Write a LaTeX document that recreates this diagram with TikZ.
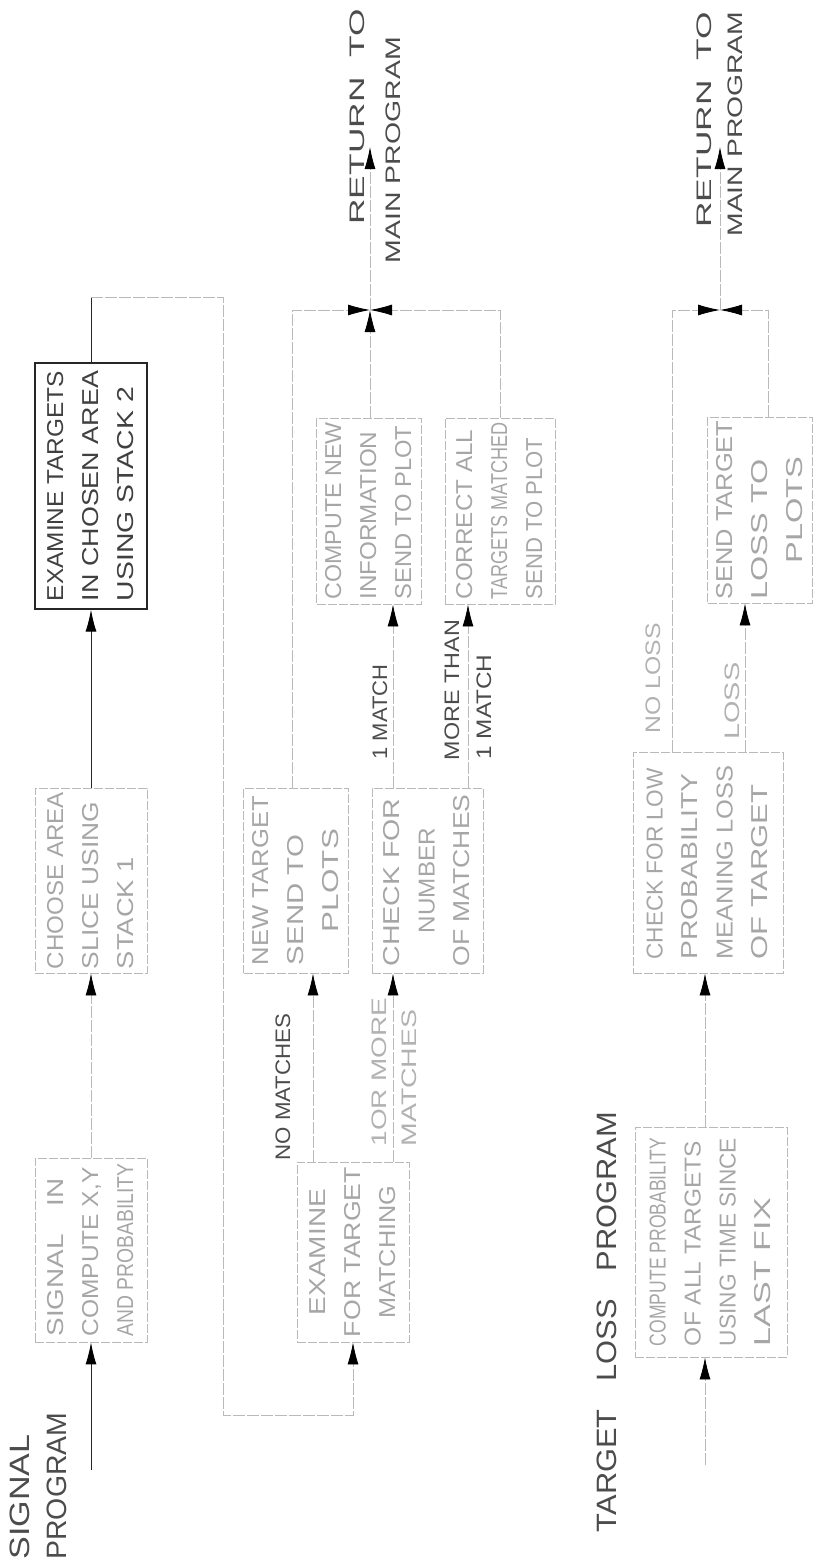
\documentclass[tikz,border=0pt]{standalone}
\usepackage{fontspec}
\setmainfont{Liberation Sans}
\usepackage{graphicx}
\usetikzlibrary{arrows.meta,calc}
\newcommand{\fw}[2]{\resizebox{#1pt}{\height}{#2}}
\newcommand{\rt}[1]{\rotatebox{90}{#1}}
\begin{document}
\begin{tikzpicture}[x=1pt,y=-1pt,
  box/.style={draw=gray!55, dash pattern=on 9pt off 2pt, line width=0.8pt, inner sep=0pt, text=gray!70, font=\fontsize{23}{35}\selectfont},
  sbox/.style={draw=black!85, line width=1.2pt, inner sep=0pt, text=black!75, font=\fontsize{23}{35}\selectfont},
  ln/.style={draw=gray!55, line width=0.8pt, dash pattern=on 12pt off 2pt},
  sln/.style={draw=black!85, line width=1pt},
  arr/.style={-{Latex[length=22pt,width=11pt,color=black]}},
  lab/.style={inner sep=0pt, text=black!70, font=\fontsize{21}{30}\selectfont},
  flab/.style={inner sep=0pt, text=gray!60, font=\fontsize{21}{30}\selectfont},
  ttl/.style={inner sep=0pt, text=black!70, font=\fontsize{28}{37}\selectfont}]
\useasboundingbox (0,0) rectangle (815,1566);

% ---------------- signal program ----------------
\node[ttl] (sgl) at (20,1497) {\rt{\fw{125}{SIGNAL}}};
\node[ttl] (prg) at (57,1486) {\rt{\fw{147}{PROGRAM}}};

\node[box, minimum width=112pt, minimum height=184pt] (sig) at (91,1250)
 {\rt{\begin{tabular}{@{}l@{}}\fw{158}{SIGNAL\quad IN}\\\fw{169}{COMPUTE X,Y}\\\fw{173}{AND PROBABILITY}\end{tabular}}};
\node[box, minimum width=112pt, minimum height=185pt] (ch) at (91,880.5)
 {\rt{\begin{tabular}{@{}l@{}}\fw{177}{CHOOSE AREA}\\\fw{167}{SLICE USING}\\\fw{112}{STACK 1}\end{tabular}}};
\node[sbox, minimum width=112pt, minimum height=246pt] (ex) at (91,486)
 {\rt{\begin{tabular}{@{}l@{}}\fw{230}{EXAMINE TARGETS}\\\fw{230}{IN CHOSEN AREA}\\\fw{214}{USING STACK 2}\end{tabular}}};

\node[box, minimum width=112pt, minimum height=180pt] (em) at (353,1252)
 {\rt{\begin{tabular}{@{}c@{}}\fw{126}{EXAMINE}\\\fw{170}{FOR TARGET}\\\fw{133}{MATCHING}\end{tabular}}};
\node[box, minimum width=102pt, minimum height=185pt] (nt) at (296,880.5)
 {\rt{\begin{tabular}{@{}l@{}}\fw{169}{NEW TARGET}\\\fw{130}{SEND TO}\\\multicolumn{1}{@{}c@{}}{\fw{103}{PLOTS}}\end{tabular}}};
\node[box, minimum width=111pt, minimum height=185pt] (ck) at (427.5,880.5)
 {\rt{\begin{tabular}{@{}l@{}}\fw{168}{CHECK FOR}\\\multicolumn{1}{@{}c@{}}{\fw{105}{NUMBER}}\\\fw{172}{OF MATCHES}\end{tabular}}};
\node[box, minimum width=102pt, minimum height=186pt] (cn) at (369,511)
 {\rt{\begin{tabular}{@{}l@{}}\fw{177}{COMPUTE NEW}\\\fw{168}{INFORMATION}\\\fw{174}{SEND TO PLOT}\end{tabular}}};
\node[box, minimum width=110pt, minimum height=186pt] (cr) at (500,511)
 {\rt{\begin{tabular}{@{}l@{}}\fw{170}{CORRECT ALL}\\\fw{177}{TARGETS MATCHED}\\\fw{162}{SEND TO PLOT}\end{tabular}}};

% labels
\node[lab] (nm) at (283,1087) {\rt{\fw{147}{NO MATCHES}}};
\node[flab] (om1) at (379,1072) {\rt{\fw{149}{1OR MORE}}};
\node[flab] (om2) at (409,1078) {\rt{\fw{137}{MATCHES}}};
\node[lab] (m1) at (380,712) {\rt{\fw{95}{1 MATCH}}};
\node[lab] (mt1) at (452,690) {\rt{\fw{140}{MORE THAN}}};
\node[lab] (mt2) at (484,707) {\rt{\fw{105}{1 MATCH}}};

\node[lab] (rt1) at (357,117) {\rt{\fw{215}{RETURN\ \ TO}}};
\node[lab] (mp1) at (393,150) {\rt{\fw{226}{MAIN PROGRAM}}};

% connectors
\coordinate (sin) at (91,1470);
\draw[sln,arr] (sin) -- (sig.south);
\draw[ln,arr] (sig.north) -- (ch.south);
\draw[sln,arr] (ch.north) -- (ex.south);
\coordinate (lt) at (223,297);
\coordinate (lb) at (223,1415);
\draw[sln] (ex.north) -- (ex.north |- lt);
\draw[ln,arr] (ex.north |- lt) -- (lt) -- (lb) -| (em.south);
\draw[ln,arr] ([xshift=-40pt]em.north) -- ([xshift=17pt]nt.south);
\draw[ln,arr] ([xshift=40pt]em.north) -- ([xshift=-34.5pt]ck.south);
\draw[ln,arr] ([xshift=-34.5pt]ck.north) -- ([xshift=24pt]cn.south);
\draw[ln,arr] ([xshift=40.5pt]ck.north) -- ([xshift=-32pt]cr.south);
\coordinate (j1) at (370,310);
\coordinate (r1) at (370,147);
\draw[ln,arr] ([xshift=1pt]cn.north) -- (j1);
\draw[ln,arr] ([xshift=-4pt]nt.north) |- (j1);
\draw[ln,arr] ([xshift=0pt]cr.north) |- (j1);
\draw[ln,arr] (j1) -- (r1);

% ---------------- target loss program ----------------
\node[ttl] (tlp) at (607,1322) {\rt{\fw{420}{TARGET\hspace{0.9em}LOSS\hspace{0.9em}PROGRAM}}};
\node[box, minimum width=152pt, minimum height=230pt] (cp) at (711,1242)
 {\rt{\begin{tabular}{@{}l@{}}\fw{208}{COMPUTE PROBABILITY}\\\fw{205}{OF ALL TARGETS}\\\fw{208}{USING TIME SINCE}\\\fw{148}{LAST FIX}\end{tabular}}};
\node[box, minimum width=150pt, minimum height=221pt] (cl) at (708,862.5)
 {\rt{\begin{tabular}{@{}l@{}}\fw{191}{CHECK FOR LOW}\\\fw{186}{PROBABILITY}\\\fw{194}{MEANING LOSS}\\\fw{175}{OF TARGET}\end{tabular}}};
\node[box, minimum width=100pt, minimum height=186pt] (sd) at (760,510)
 {\rt{\begin{tabular}{@{}l@{}}\fw{179}{SEND TARGET}\\\fw{140}{LOSS TO}\\\multicolumn{1}{@{}c@{}}{\fw{107}{PLOTS}}\end{tabular}}};

\node[flab] (nl) at (653,678) {\rt{\fw{110}{NO LOSS}}};
\node[flab] (ls) at (732,701) {\rt{\fw{77}{LOSS}}};
\node[lab] (rt2) at (704,120) {\rt{\fw{215}{RETURN\ \ TO}}};
\node[lab] (mp2) at (735,124) {\rt{\fw{225}{MAIN PROGRAM}}};

\coordinate (tin) at (705,1465);
\coordinate (lsx) at ([xshift=37pt]cl.north);
\draw[ln,arr] (tin) -- (cp.south -| tin);
\draw[ln,arr] (cp.north -| tin) -- (cl.south -| tin);
\draw[ln,arr] (lsx) -- (sd.south -| lsx);
\coordinate (j2) at (720,310);
\coordinate (r2) at (720,147);
\draw[ln,arr] ([xshift=-36pt]cl.north) |- (j2);
\draw[ln,arr] ([xshift=8pt]sd.north) |- (j2);
\draw[ln,arr] (j2) -- (r2);
\end{tikzpicture}
\end{document}
